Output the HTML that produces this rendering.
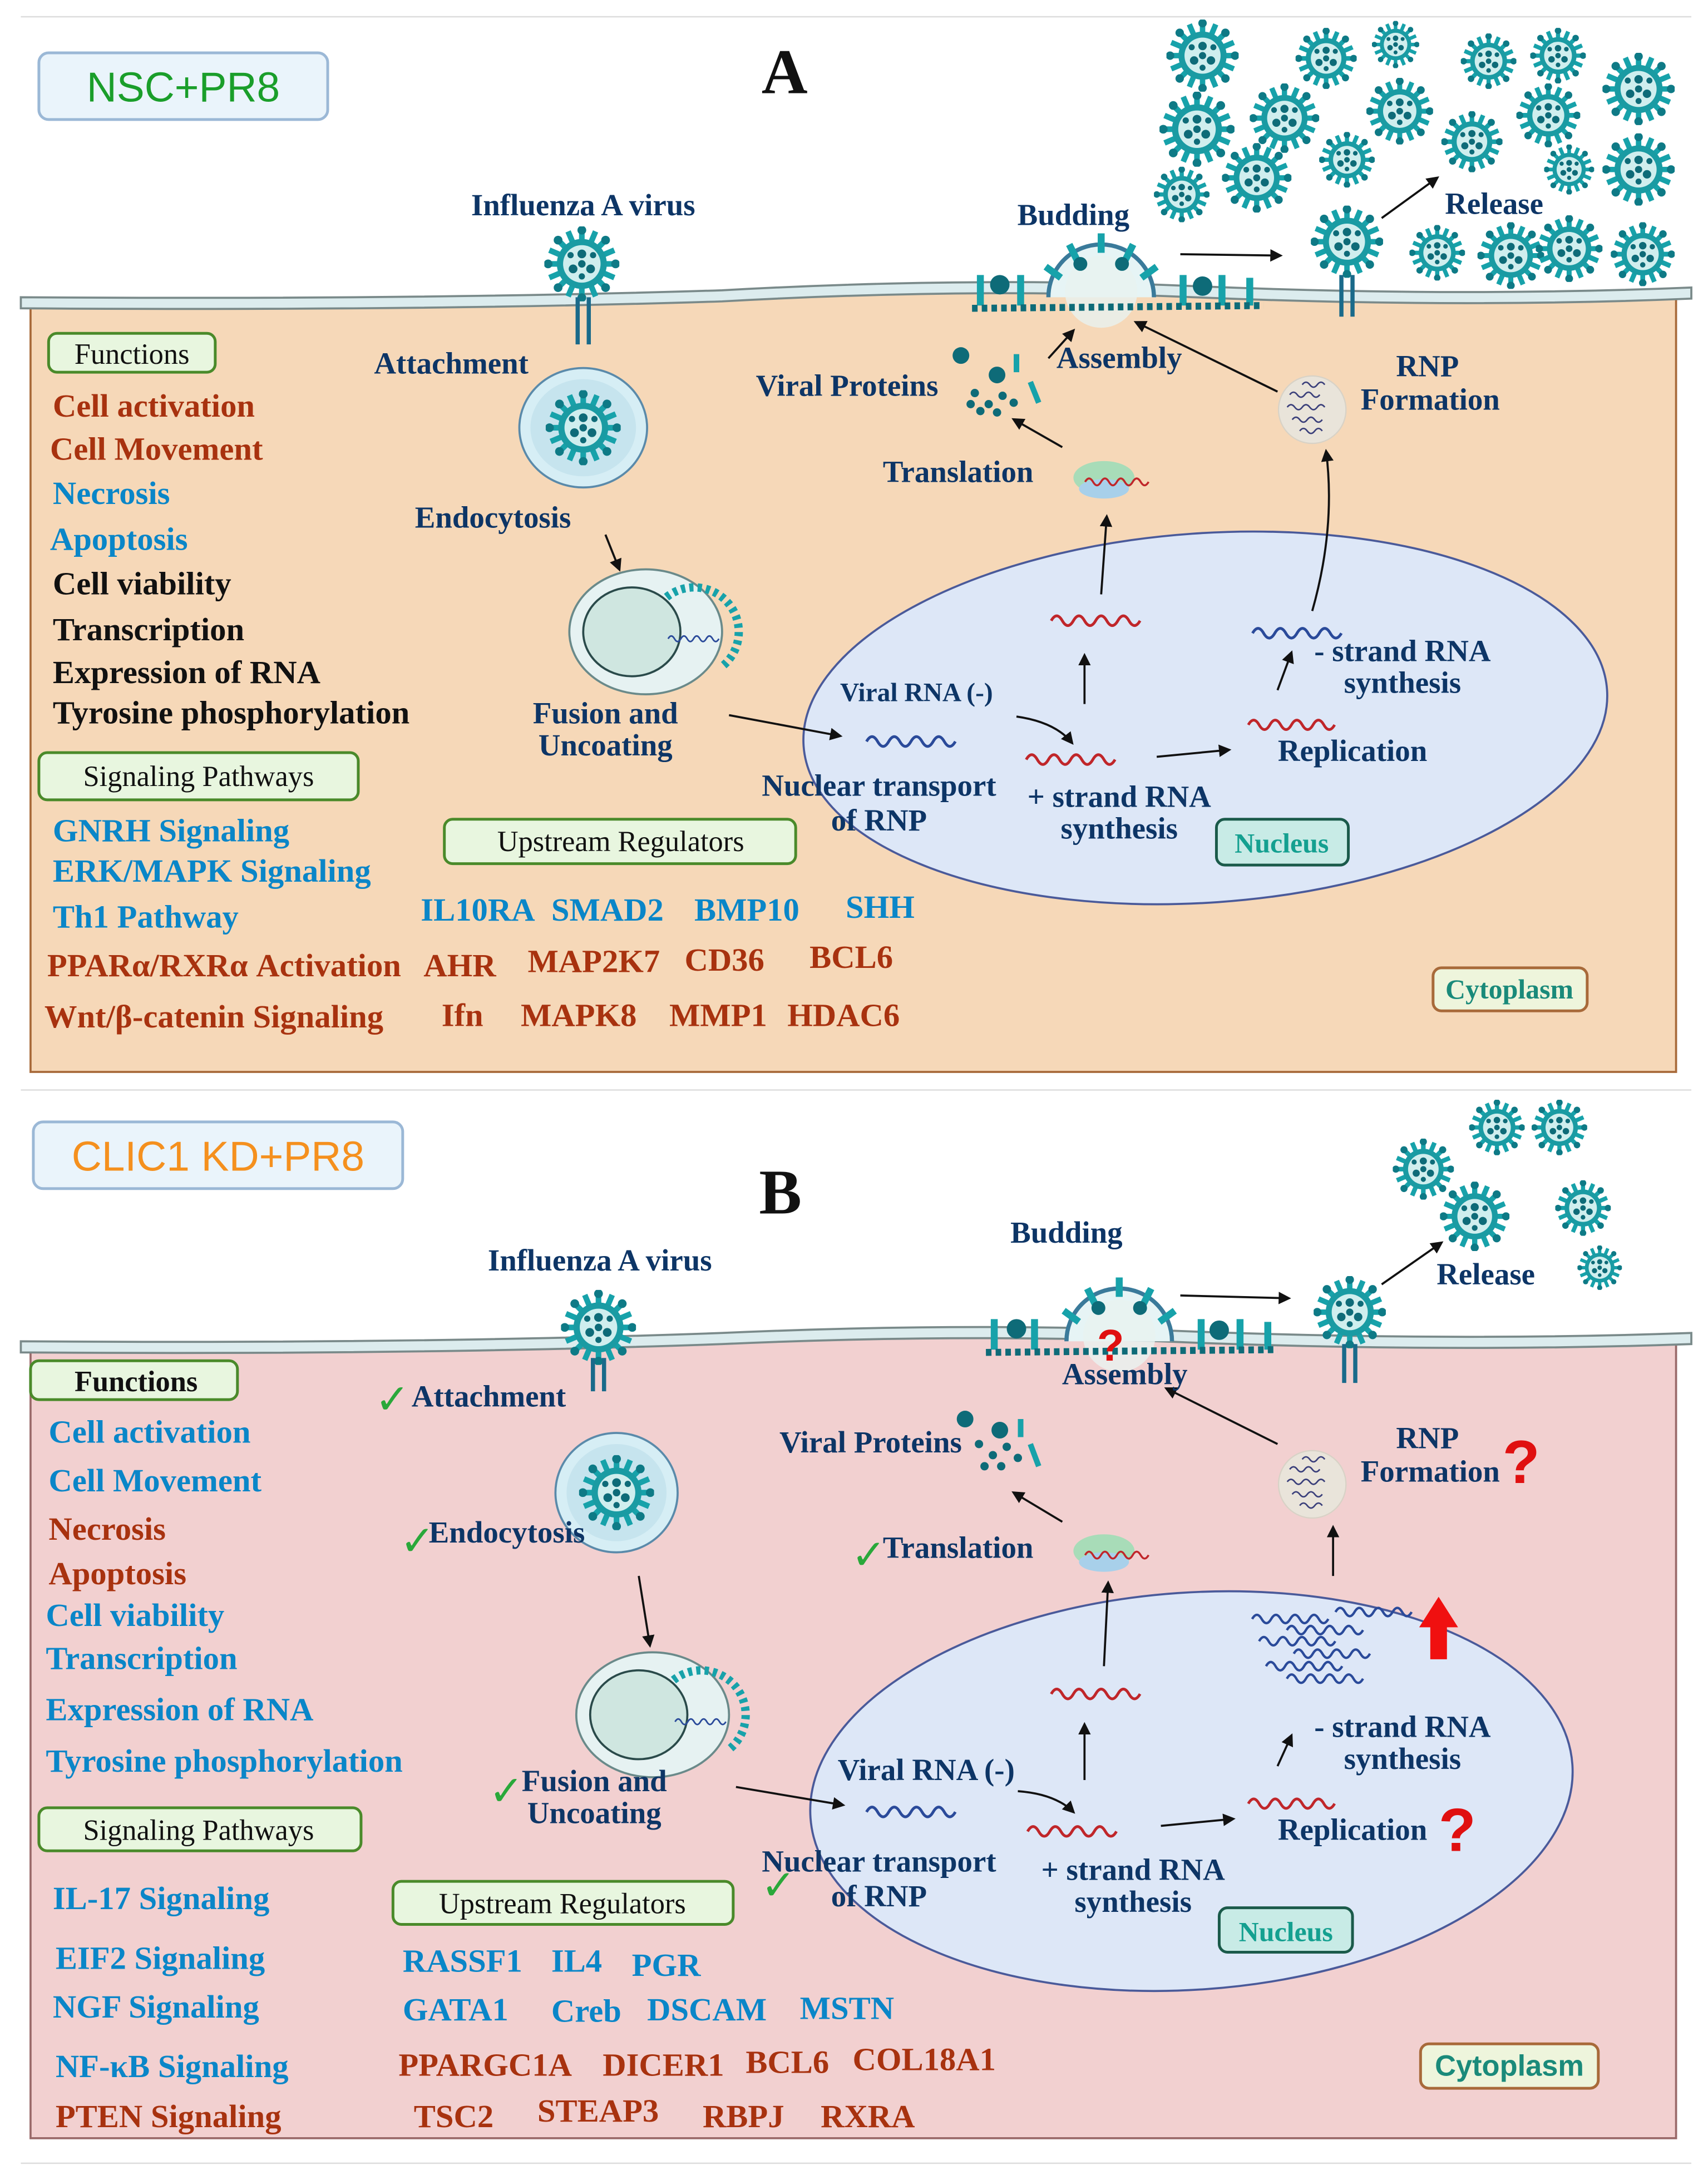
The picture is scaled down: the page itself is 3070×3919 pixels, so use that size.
<!DOCTYPE html>
<html><head><meta charset="utf-8"><style>
html,body{margin:0;padding:0;background:#fff}
svg{display:block}
text{font-family:"Liberation Serif",serif}
.n{fill:#0d3566;font-weight:bold;font-size:22px}
.r{fill:#a8320f;font-weight:bold;font-size:23.5px}
.b{fill:#0a86c8;font-weight:bold;font-size:23.5px}
.k{fill:#111;font-weight:bold;font-size:23.5px}
.bx{font-size:21px;fill:#111}
.ck{fill:#2aa83a;font-size:30px;font-weight:bold;font-family:"DejaVu Sans",sans-serif}
.q{fill:#e01010;font-size:44px;font-weight:bold;font-family:"Liberation Sans",sans-serif}
</style></head><body>
<svg width="3070" height="3919" viewBox="0 0 1230 1570" xmlns="http://www.w3.org/2000/svg">
<defs>
<symbol id="v" viewBox="-30 -30 60 60">
<g stroke="#17a2aa" stroke-width="4.5">
<line x1="0" y1="-28" x2="0" y2="28"/><line x1="-28" y1="0" x2="28" y2="0"/>
<line x1="-20" y1="-20" x2="20" y2="20"/><line x1="-20" y1="20" x2="20" y2="-20"/>
<line x1="-11" y1="-26" x2="11" y2="26"/><line x1="11" y1="-26" x2="-11" y2="26"/>
<line x1="-26" y1="-11" x2="26" y2="11"/><line x1="-26" y1="11" x2="26" y2="-11"/>
</g>
<g fill="#0e7a86"><circle cx="0" cy="-27" r="3.5"/><circle cx="0" cy="27" r="3.5"/><circle cx="27" cy="0" r="3.5"/><circle cx="-27" cy="0" r="3.5"/><circle cx="19" cy="19" r="3.5"/><circle cx="-19" cy="19" r="3.5"/><circle cx="19" cy="-19" r="3.5"/><circle cx="-19" cy="-19" r="3.5"/></g>
<circle r="20" fill="#1a9ba3"/>
<circle r="15" fill="#cfeeee"/>
<g fill="#0e6b78"><circle cx="0" cy="-8" r="3.5"/><circle cx="7" cy="4" r="3.5"/><circle cx="-7" cy="4" r="3.5"/><circle cx="0" cy="0" r="3"/><circle cx="9" cy="-7" r="2.5"/><circle cx="-9" cy="-7" r="2.5"/><circle cx="0" cy="10" r="2.5"/></g>
</symbol>
<symbol id="rna" viewBox="0 0 70 14"><path d="M2 7 q4 -7 8 0 t8 0 t8 0 t8 0 t8 0 t8 0 t8 0 t8 0" fill="none" stroke="#c0262a" stroke-width="2"/></symbol>
<symbol id="rnab" viewBox="0 0 70 14"><path d="M2 7 q4 -7 8 0 t8 0 t8 0 t8 0 t8 0 t8 0 t8 0 t8 0" fill="none" stroke="#2a4a9a" stroke-width="2"/></symbol>
<symbol id="rnp" viewBox="-30 -30 60 60"><circle r="27" fill="#e9e4da" stroke="#d8d2c6"/>
<g fill="none" stroke="#3a3f7a" stroke-width="1.2"><path d="M-18 -12 q3 -4 6 0 t6 0 t6 0 t6 0"/><path d="M-20 -2 q3 -4 6 0 t6 0 t6 0 t6 0 t6 0"/><path d="M-16 8 q3 -4 6 0 t6 0 t6 0 t6 0"/><path d="M-10 17 q3 -4 6 0 t6 0 t6 0"/><path d="M-8 -20 q3 -4 6 0 t6 0 t6 0"/></g></symbol>
<marker id="ar" viewBox="0 0 10 10" refX="8" refY="5" markerWidth="6" markerHeight="6" orient="auto"><path d="M0 0 L10 5 L0 10z" fill="#111"/></marker>
</defs>

<line x1="15" y1="12" x2="1218" y2="12" stroke="#ddd"/>
<line x1="15" y1="785" x2="1218" y2="785" stroke="#ddd"/>
<line x1="15" y1="1558" x2="1218" y2="1558" stroke="#ddd"/>

<!-- PANEL A -->
<path d="M22 220 Q300 222 520 215 Q700 205 860 212 Q1050 220 1218 213 L1207 215 L1207 772 L22 772 Z" fill="#f6d8b8" stroke="#a86a3a" stroke-width="1.5"/>
<path d="M15 214 Q300 216 520 209 Q700 199 860 206 Q1050 214 1218 207 L1218 215 Q1050 222 860 214 Q700 207 520 217 Q300 224 15 222 Z" fill="#dcecee" stroke="#7a8a8a" stroke-width="1.5"/>
<rect x="28" y="38" width="208" height="48" rx="7" fill="#eaf4fb" stroke="#9bb8d6" stroke-width="2"/>
<text x="132" y="73" text-anchor="middle" style="font-family:'Liberation Sans',sans-serif;font-size:30px;fill:#1a9e2a">NSC+PR8</text>
<text x="565" y="67" text-anchor="middle" style="font-size:46px;font-weight:bold;fill:#111">A</text>

<g>
<use href="#v" x="840" y="14" width="52" height="52"/><use href="#v" x="933" y="20" width="44" height="44"/><use href="#v" x="988" y="15" width="34" height="34"/>
<use href="#v" x="1052" y="24" width="40" height="40"/><use href="#v" x="1102" y="20" width="40" height="40"/><use href="#v" x="1154" y="38" width="52" height="52"/>
<use href="#v" x="835" y="66" width="54" height="54"/><use href="#v" x="900" y="60" width="50" height="50"/><use href="#v" x="984" y="56" width="48" height="48"/>
<use href="#v" x="1038" y="80" width="44" height="44"/><use href="#v" x="1092" y="60" width="46" height="46"/><use href="#v" x="831" y="120" width="40" height="40"/>
<use href="#v" x="880" y="103" width="50" height="50"/><use href="#v" x="950" y="95" width="40" height="40"/><use href="#v" x="1112" y="104" width="36" height="36"/>
<use href="#v" x="1154" y="96" width="52" height="52"/><use href="#v" x="1015" y="162" width="40" height="40"/><use href="#v" x="1064" y="160" width="48" height="48"/>
<use href="#v" x="1106" y="155" width="48" height="48"/><use href="#v" x="1160" y="160" width="46" height="46"/>
<use href="#v" x="944" y="148" width="52" height="52"/><use href="#v" x="392" y="163" width="54" height="54"/>
</g>
<g stroke="#1a6a8a" stroke-width="3"><line x1="416" y1="214" x2="416" y2="248"/><line x1="424" y1="214" x2="424" y2="248"/><line x1="966" y1="198" x2="966" y2="228"/><line x1="974" y1="198" x2="974" y2="228"/></g>

<path d="M755 214 A38 38 0 0 1 831 214" fill="#e6f4f5" stroke="#3a7a9a" stroke-width="3"/>
<circle cx="793" cy="210" r="26" fill="#e8f2f0" opacity=".8"/>
<g stroke="#17a2aa" stroke-width="5"><line x1="793" y1="168" x2="793" y2="182"/><line x1="770" y1="176" x2="776" y2="188"/><line x1="816" y1="176" x2="810" y2="188"/><line x1="753" y1="192" x2="764" y2="200"/><line x1="833" y1="192" x2="822" y2="200"/>
<line x1="706" y1="198" x2="706" y2="220"/><line x1="735" y1="198" x2="735" y2="220"/><line x1="852" y1="198" x2="852" y2="220"/><line x1="880" y1="198" x2="880" y2="220"/><line x1="900" y1="200" x2="900" y2="220"/></g>
<g fill="#0e6b78"><circle cx="720" cy="205" r="7"/><circle cx="866" cy="206" r="7"/><circle cx="778" cy="190" r="5"/><circle cx="808" cy="190" r="5"/></g>
<path d="M700 222 L910 220" stroke="#0e6b78" stroke-width="5" stroke-dasharray="4 3"/>

<rect x="35" y="240" width="120" height="28" rx="6" fill="#e8f6df" stroke="#4a8a2a" stroke-width="2"/>
<text x="95" y="262" text-anchor="middle" class="bx">Functions</text>
<text x="38" y="300" class="r">Cell activation</text>
<text x="36" y="331" class="r">Cell Movement</text>
<text x="38" y="363" class="b">Necrosis</text>
<text x="36" y="396" class="b">Apoptosis</text>
<text x="38" y="428" class="k">Cell viability</text>
<text x="38" y="461" class="k">Transcription</text>
<text x="38" y="492" class="k">Expression of RNA</text>
<text x="38" y="521" class="k">Tyrosine phosphorylation</text>
<rect x="28" y="542" width="230" height="34" rx="6" fill="#e8f6df" stroke="#4a8a2a" stroke-width="2"/>
<text x="143" y="566" text-anchor="middle" class="bx">Signaling Pathways</text>
<text x="38" y="606" class="b">GNRH Signaling</text>
<text x="38" y="635" class="b">ERK/MAPK Signaling</text>
<text x="38" y="668" class="b">Th1 Pathway</text>
<text x="34" y="703" class="r">PPARα/RXRα Activation</text>
<text x="32" y="740" class="r">Wnt/β-catenin Signaling</text>
<rect x="320" y="590" width="253" height="32" rx="6" fill="#e8f6df" stroke="#4a8a2a" stroke-width="2"/>
<text x="447" y="613" text-anchor="middle" class="bx">Upstream Regulators</text>
<text x="303" y="663" class="b">IL10RA</text><text x="397" y="663" class="b">SMAD2</text><text x="500" y="663" class="b">BMP10</text><text x="609" y="661" class="b">SHH</text>
<text x="305" y="703" class="r">AHR</text><text x="380" y="700" class="r">MAP2K7</text><text x="493" y="699" class="r">CD36</text><text x="583" y="697" class="r">BCL6</text>
<text x="318" y="739" class="r">Ifn</text><text x="375" y="739" class="r">MAPK8</text><text x="482" y="739" class="r">MMP1</text><text x="567" y="739" class="r">HDAC6</text>
<rect x="1032" y="697" width="111" height="31" rx="6" fill="#eef5dc" stroke="#a86a3a" stroke-width="2"/>
<text x="1087" y="719" text-anchor="middle" style="font-size:20px;font-weight:bold;fill:#1a8a7a">Cytoplasm</text>

<ellipse cx="868" cy="517" rx="290" ry="133" transform="rotate(-4 868 517)" fill="#dde7f7" stroke="#4a5a9a" stroke-width="1.5"/>
<rect x="876" y="590" width="95" height="33" rx="6" fill="#c8ebe6" stroke="#1a5a4a" stroke-width="2"/>
<text x="923" y="614" text-anchor="middle" style="font-size:20px;font-weight:bold;fill:#14a090">Nucleus</text>

<ellipse cx="420" cy="308" rx="46" ry="43" fill="#d6eef5" stroke="#5a8aaa" stroke-width="1.5"/>
<ellipse cx="420" cy="308" rx="38" ry="35" fill="#c6e4ee"/>
<use href="#v" x="393" y="281" width="54" height="54"/>
<ellipse cx="465" cy="455" rx="55" ry="45" fill="#e6f2f2" stroke="#6a8a8a" stroke-width="1.5"/>
<ellipse cx="455" cy="455" rx="35" ry="32" fill="#cfe6e0" stroke="#2a4a4a" stroke-width="1.5"/>
<path d="M480 430 A30 30 0 0 1 520 480" fill="none" stroke="#17a2aa" stroke-width="6" stroke-dasharray="3 3"/>
<use href="#rnab" x="480" y="455" width="40" height="10"/>

<use href="#rnab" x="622" y="527" width="70" height="14"/>
<use href="#rna" x="737" y="540" width="70" height="14"/>
<use href="#rna" x="755" y="440" width="70" height="14"/>
<use href="#rnab" x="900" y="449" width="70" height="14"/>
<use href="#rna" x="897" y="515" width="68" height="14"/>
<use href="#rnp" x="918" y="268" width="54" height="54"/>
<ellipse cx="795" cy="344" rx="22" ry="12" fill="#a8dcb8"/><ellipse cx="795" cy="352" rx="18" ry="7" fill="#a8d0ea"/>
<use href="#rna" x="775" y="342" width="60" height="10"/>
<g fill="#0e6b78"><circle cx="702" cy="283" r="3"/><circle cx="712" cy="291" r="3"/><circle cx="722" cy="285" r="3"/><circle cx="706" cy="296" r="3"/><circle cx="718" cy="297" r="3"/><circle cx="699" cy="291" r="3"/><circle cx="730" cy="290" r="3"/><circle cx="692" cy="256" r="6"/><circle cx="718" cy="270" r="6"/></g>
<g stroke="#17a2aa" stroke-width="4"><line x1="732" y1="255" x2="732" y2="268"/><line x1="742" y1="275" x2="748" y2="290"/></g>

<g stroke="#111" stroke-width="1.5" fill="none" marker-end="url(#ar)">
<line x1="436" y1="385" x2="446" y2="410"/><line x1="525" y1="515" x2="605" y2="530"/>
<path d="M732 516 Q760 520 772 535"/><line x1="833" y1="545" x2="885" y2="540"/>
<line x1="920" y1="497" x2="930" y2="470"/><line x1="781" y1="507" x2="781" y2="472"/>
<line x1="793" y1="428" x2="797" y2="372"/><path d="M945 440 Q962 380 955 325"/>
<line x1="765" y1="322" x2="730" y2="302"/><line x1="920" y1="282" x2="818" y2="232"/>
<line x1="755" y1="258" x2="773" y2="238"/><line x1="850" y1="183" x2="922" y2="184"/>
<line x1="995" y1="157" x2="1035" y2="128"/>
</g>

<text x="420" y="155" text-anchor="middle" class="n">Influenza A virus</text>
<text x="773" y="162" text-anchor="middle" class="n">Budding</text>
<text x="1076" y="154" text-anchor="middle" class="n">Release</text>
<text x="325" y="269" text-anchor="middle" class="n">Attachment</text>
<text x="610" y="285" text-anchor="middle" class="n">Viral Proteins</text>
<text x="806" y="265" text-anchor="middle" class="n">Assembly</text>
<text x="1028" y="271" text-anchor="middle" class="n">RNP</text>
<text x="1030" y="295" text-anchor="middle" class="n">Formation</text>
<text x="690" y="347" text-anchor="middle" class="n">Translation</text>
<text x="355" y="380" text-anchor="middle" class="n">Endocytosis</text>
<text x="436" y="521" text-anchor="middle" class="n">Fusion and</text>
<text x="436" y="544" text-anchor="middle" class="n">Uncoating</text>
<text x="660" y="505" text-anchor="middle" class="n" style="font-size:19px">Viral RNA (-)</text>
<text x="1010" y="476" text-anchor="middle" class="n">- strand RNA</text>
<text x="1010" y="499" text-anchor="middle" class="n">synthesis</text>
<text x="974" y="548" text-anchor="middle" class="n">Replication</text>
<text x="633" y="573" text-anchor="middle" class="n">Nuclear transport</text>
<text x="633" y="598" text-anchor="middle" class="n">of RNP</text>
<text x="806" y="581" text-anchor="middle" class="n">+ strand RNA</text>
<text x="806" y="604" text-anchor="middle" class="n">synthesis</text>

<!-- PANEL B -->
<path d="M22 972 Q300 974 520 966 Q700 958 860 965 Q1050 972 1218 966 L1207 968 L1207 1540 L22 1540 Z" fill="#f2d0d0" stroke="#9a6a6a" stroke-width="1.5"/>
<path d="M15 966 Q300 968 520 960 Q700 952 860 959 Q1050 966 1218 960 L1218 968 Q1050 974 860 967 Q700 960 520 968 Q300 976 15 974 Z" fill="#dcecee" stroke="#7a8a8a" stroke-width="1.5"/>
<rect x="24" y="808" width="266" height="48" rx="7" fill="#eaf4fb" stroke="#9bb8d6" stroke-width="2"/>
<text x="157" y="843" text-anchor="middle" style="font-family:'Liberation Sans',sans-serif;font-size:30px;fill:#f5901e">CLIC1 KD+PR8</text>
<text x="562" y="874" text-anchor="middle" style="font-size:46px;font-weight:bold;fill:#111">B</text>

<use href="#v" x="1058" y="792" width="40" height="40"/><use href="#v" x="1103" y="792" width="40" height="40"/><use href="#v" x="1003" y="820" width="44" height="44"/>
<use href="#v" x="1037" y="851" width="50" height="50"/><use href="#v" x="1120" y="850" width="40" height="40"/><use href="#v" x="1136" y="897" width="32" height="32"/>
<use href="#v" x="946" y="919" width="52" height="52"/><use href="#v" x="404" y="929" width="54" height="54"/>
<g stroke="#1a6a8a" stroke-width="3"><line x1="427" y1="978" x2="427" y2="1002"/><line x1="435" y1="978" x2="435" y2="1002"/><line x1="968" y1="968" x2="968" y2="996"/><line x1="976" y1="968" x2="976" y2="996"/></g>

<path d="M768 966 A38 38 0 0 1 844 966" fill="#e6f4f5" stroke="#3a7a9a" stroke-width="3"/>
<circle cx="806" cy="962" r="26" fill="#e8f2f0" opacity=".8"/>
<g stroke="#17a2aa" stroke-width="5"><line x1="806" y1="920" x2="806" y2="934"/><line x1="783" y1="928" x2="789" y2="940"/><line x1="829" y1="928" x2="823" y2="940"/><line x1="766" y1="944" x2="777" y2="952"/><line x1="846" y1="944" x2="835" y2="952"/>
<line x1="716" y1="950" x2="716" y2="972"/><line x1="745" y1="950" x2="745" y2="972"/><line x1="865" y1="950" x2="865" y2="972"/><line x1="893" y1="950" x2="893" y2="972"/><line x1="913" y1="952" x2="913" y2="972"/></g>
<g fill="#0e6b78"><circle cx="732" cy="957" r="7"/><circle cx="878" cy="958" r="7"/><circle cx="791" cy="942" r="5"/><circle cx="821" cy="942" r="5"/></g>
<path d="M710 974 L920 972" stroke="#0e6b78" stroke-width="5" stroke-dasharray="4 3"/>

<rect x="22" y="980" width="149" height="28" rx="6" fill="#e8f6df" stroke="#4a8a2a" stroke-width="2"/>
<text x="98" y="1002" text-anchor="middle" class="bx" style="font-weight:bold">Functions</text>
<text x="35" y="1039" class="b">Cell activation</text>
<text x="35" y="1074" class="b">Cell Movement</text>
<text x="35" y="1109" class="r">Necrosis</text>
<text x="35" y="1141" class="r">Apoptosis</text>
<text x="33" y="1171" class="b">Cell viability</text>
<text x="33" y="1202" class="b">Transcription</text>
<text x="33" y="1239" class="b">Expression of RNA</text>
<text x="33" y="1276" class="b">Tyrosine phosphorylation</text>
<rect x="28" y="1302" width="232" height="31" rx="6" fill="#e8f6df" stroke="#4a8a2a" stroke-width="2"/>
<text x="143" y="1325" text-anchor="middle" class="bx">Signaling Pathways</text>
<text x="38" y="1375" class="b">IL-17 Signaling</text>
<text x="40" y="1418" class="b">EIF2 Signaling</text>
<text x="38" y="1453" class="b">NGF Signaling</text>
<text x="40" y="1496" class="b">NF-κB Signaling</text>
<text x="40" y="1532" class="r">PTEN Signaling</text>
<rect x="283" y="1355" width="245" height="31" rx="6" fill="#e8f6df" stroke="#4a8a2a" stroke-width="2"/>
<text x="405" y="1378" text-anchor="middle" class="bx">Upstream Regulators</text>
<text x="290" y="1420" class="b">RASSF1</text><text x="397" y="1420" class="b">IL4</text><text x="455" y="1423" class="b">PGR</text>
<text x="290" y="1455" class="b">GATA1</text><text x="397" y="1456" class="b">Creb</text><text x="466" y="1455" class="b">DSCAM</text><text x="576" y="1454" class="b">MSTN</text>
<text x="287" y="1495" class="r">PPARGC1A</text><text x="434" y="1495" class="r">DICER1</text><text x="537" y="1493" class="r">BCL6</text><text x="614" y="1491" class="r">COL18A1</text>
<text x="298" y="1532" class="r">TSC2</text><text x="387" y="1528" class="r">STEAP3</text><text x="506" y="1532" class="r">RBPJ</text><text x="591" y="1532" class="r">RXRA</text>
<rect x="1023" y="1472" width="128" height="32" rx="6" fill="#eef5dc" stroke="#a86a3a" stroke-width="2"/>
<text x="1087" y="1495" text-anchor="middle" style="font-size:21px;font-weight:bold;fill:#1a8a7a;font-family:'Liberation Sans',sans-serif">Cytoplasm</text>

<ellipse cx="858" cy="1290" rx="275" ry="143" transform="rotate(-4 858 1290)" fill="#dde7f7" stroke="#4a5a9a" stroke-width="1.5"/>
<rect x="878" y="1374" width="96" height="32" rx="6" fill="#c8ebe6" stroke="#1a5a4a" stroke-width="2"/>
<text x="926" y="1398" text-anchor="middle" style="font-size:20px;font-weight:bold;fill:#14a090">Nucleus</text>

<ellipse cx="444" cy="1075" rx="44" ry="43" fill="#d6eef5" stroke="#5a8aaa" stroke-width="1.5"/>
<ellipse cx="444" cy="1075" rx="36" ry="35" fill="#c6e4ee"/>
<use href="#v" x="417" y="1048" width="54" height="54"/>
<ellipse cx="470" cy="1235" rx="55" ry="45" fill="#e6f2f2" stroke="#6a8a8a" stroke-width="1.5"/>
<ellipse cx="460" cy="1235" rx="35" ry="32" fill="#cfe6e0" stroke="#2a4a4a" stroke-width="1.5"/>
<path d="M485 1210 A30 30 0 0 1 525 1260" fill="none" stroke="#17a2aa" stroke-width="6" stroke-dasharray="3 3"/>
<use href="#rnab" x="485" y="1235" width="40" height="10"/>

<use href="#rnab" x="622" y="1298" width="70" height="14"/>
<use href="#rna" x="738" y="1312" width="70" height="14"/>
<use href="#rna" x="755" y="1213" width="70" height="14"/>
<use href="#rna" x="897" y="1292" width="68" height="14"/>
<g><use href="#rnab" x="890" y="1160" width="80" height="12"/><use href="#rnab" x="920" y="1168" width="70" height="12"/><use href="#rnab" x="895" y="1176" width="80" height="12"/><use href="#rnab" x="930" y="1185" width="60" height="12"/><use href="#rnab" x="900" y="1194" width="80" height="12"/><use href="#rnab" x="925" y="1203" width="60" height="12"/><use href="#rnab" x="960" y="1155" width="60" height="12"/></g>
<use href="#rnp" x="918" y="1042" width="54" height="54"/>
<ellipse cx="795" cy="1117" rx="22" ry="12" fill="#a8dcb8"/><ellipse cx="795" cy="1125" rx="18" ry="7" fill="#a8d0ea"/>
<use href="#rna" x="775" y="1115" width="60" height="10"/>
<g fill="#0e6b78"><circle cx="705" cy="1040" r="3"/><circle cx="715" cy="1048" r="3"/><circle cx="725" cy="1042" r="3"/><circle cx="709" cy="1056" r="3"/><circle cx="721" cy="1056" r="3"/><circle cx="733" cy="1050" r="3"/><circle cx="695" cy="1022" r="6"/><circle cx="720" cy="1030" r="6"/></g>
<g stroke="#17a2aa" stroke-width="4"><line x1="735" y1="1022" x2="735" y2="1035"/><line x1="742" y1="1040" x2="748" y2="1056"/></g>

<g stroke="#111" stroke-width="1.5" fill="none" marker-end="url(#ar)">
<line x1="460" y1="1135" x2="468" y2="1185"/><line x1="530" y1="1287" x2="607" y2="1300"/>
<path d="M733 1290 Q760 1292 773 1305"/><line x1="836" y1="1315" x2="888" y2="1310"/>
<line x1="920" y1="1272" x2="930" y2="1250"/><line x1="781" y1="1282" x2="781" y2="1242"/>
<line x1="795" y1="1200" x2="798" y2="1140"/><line x1="960" y1="1135" x2="960" y2="1100"/>
<line x1="765" y1="1096" x2="730" y2="1075"/><line x1="920" y1="1040" x2="840" y2="1000"/>
<line x1="850" y1="933" x2="928" y2="935"/><line x1="995" y1="925" x2="1038" y2="895"/>
</g>
<path d="M1030 1195 L1030 1172 L1022 1172 L1036 1150 L1050 1172 L1042 1172 L1042 1195 Z" fill="#f01010"/>

<text x="432" y="915" text-anchor="middle" class="n">Influenza A virus</text>
<text x="768" y="895" text-anchor="middle" class="n">Budding</text>
<text x="1070" y="925" text-anchor="middle" class="n">Release</text>
<text x="270" y="1018" class="ck">✓</text><text x="352" y="1013" text-anchor="middle" class="n">Attachment</text>
<text x="627" y="1046" text-anchor="middle" class="n">Viral Proteins</text>
<text x="810" y="997" text-anchor="middle" class="n">Assembly</text>
<text x="790" y="980" class="q" style="font-size:32px">?</text>
<text x="1028" y="1043" text-anchor="middle" class="n">RNP</text>
<text x="1030" y="1067" text-anchor="middle" class="n">Formation</text>
<text x="1082" y="1068" class="q">?</text>
<text x="613" y="1130" class="ck">✓</text><text x="690" y="1122" text-anchor="middle" class="n">Translation</text>
<text x="288" y="1120" class="ck">✓</text><text x="365" y="1111" text-anchor="middle" class="n">Endocytosis</text>
<text x="352" y="1300" class="ck">✓</text><text x="428" y="1290" text-anchor="middle" class="n">Fusion and</text>
<text x="428" y="1313" text-anchor="middle" class="n">Uncoating</text>
<text x="667" y="1282" text-anchor="middle" class="n">Viral RNA (-)</text>
<text x="1010" y="1251" text-anchor="middle" class="n">- strand RNA</text>
<text x="1010" y="1274" text-anchor="middle" class="n">synthesis</text>
<text x="974" y="1325" text-anchor="middle" class="n">Replication</text>
<text x="1036" y="1333" class="q">?</text>
<text x="548" y="1368" class="ck">✓</text>
<text x="633" y="1348" text-anchor="middle" class="n">Nuclear transport</text>
<text x="633" y="1373" text-anchor="middle" class="n">of RNP</text>
<text x="816" y="1354" text-anchor="middle" class="n">+ strand RNA</text>
<text x="816" y="1377" text-anchor="middle" class="n">synthesis</text>
</svg>
</body></html>
